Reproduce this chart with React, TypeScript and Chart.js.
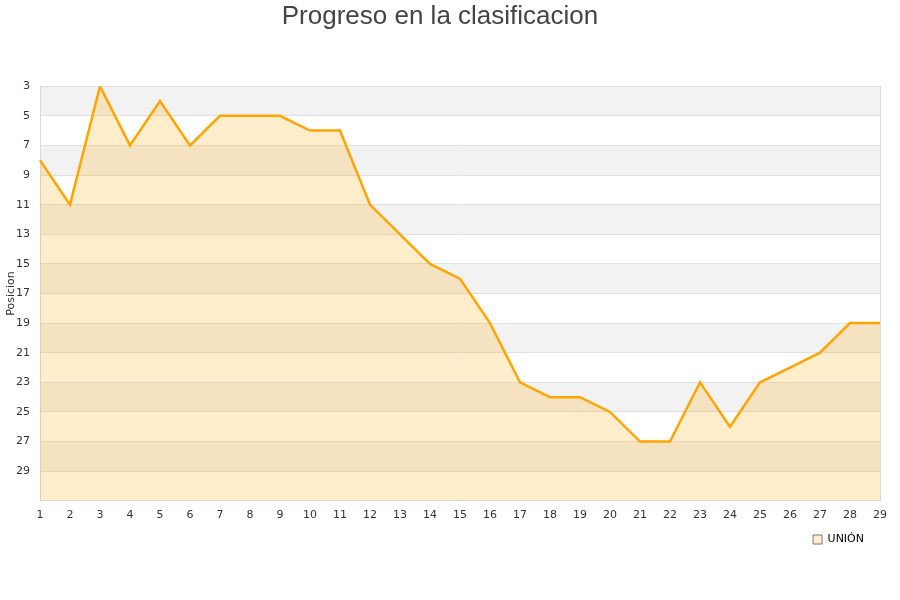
import React, { useEffect, useRef } from "react";
import { Chart, registerables } from "chart.js";

Chart.register(...registerables);

const jornadas = [
  "1", "2", "3", "4", "5", "6", "7", "8", "9", "10",
  "11", "12", "13", "14", "15", "16", "17", "18", "19", "20",
  "21", "22", "23", "24", "25", "26", "27", "28", "29",
];
const posiciones = [
  8, 11, 3, 7, 4, 7, 5, 5, 5, 6,
  6, 11, 13, 15, 16, 19, 23, 24, 24, 25,
  27, 27, 23, 26, 23, 22, 21, 19, 19,
];
const equipo = "UNIÓN";
const yMin = 3;
const yMax = 31;
const yStep = 2;

// grey stripes every other tick interval, under the grid
const stripes = {
  id: "stripes",
  afterLayout(chart: any) {
    // nudge the legend a bit to the left
    if (chart.legend) {
      chart.legend.left -= 4;
      chart.legend.right -= 4;
    }
  },
  beforeDraw(chart: any) {
    const { ctx, chartArea, scales } = chart;
    const y = scales.y;
    ctx.save();
    ctx.fillStyle = "#f2f2f2";
    for (let v = yMin; v < yMax; v += yStep * 2) {
      const top = y.getPixelForValue(v);
      const bottom = y.getPixelForValue(Math.min(v + yStep, yMax));
      ctx.fillRect(chartArea.left, top, chartArea.right - chartArea.left, bottom - top);
    }
    ctx.restore();
  },
};

const App = () => {
  const chartRef = useRef<HTMLCanvasElement>(null);

  useEffect(() => {
    const ctx = chartRef.current!.getContext("2d")!;
    const myChart = new Chart(ctx, {
      type: "line",
      data: {
        labels: jornadas,
        datasets: [
          {
            label: equipo,
            data: posiciones,
            borderColor: "#ffa500",
            backgroundColor: "rgba(255, 165, 0, 0.2)",
            borderWidth: 2.5,
            pointRadius: 0,
            tension: 0,
            fill: "start",
          },
        ],
      },
      options: {
        animation: false,
        responsive: true,
        maintainAspectRatio: false,
        layout: { padding: { left: 0, right: 20, top: 0, bottom: 45 } },
        plugins: {
          title: {
            display: true,
            text: "Progreso en la clasificacion",
            color: "#444",
            font: { family: "'Liberation Sans', Arial, sans-serif", size: 26, weight: "normal" },
            padding: { top: 1, bottom: 54 },
          },
          legend: {
            position: "bottom",
            align: "end",
            labels: {
              boxWidth: 9,
              boxHeight: 9,
              padding: 12,
              color: "#000",
              font: { family: "'DejaVu Sans', sans-serif", size: 11 },
              generateLabels: () => [
                {
                  text: equipo,
                  fillStyle: "rgba(255, 165, 0, 0.2)",
                  strokeStyle: "#777",
                  lineWidth: 1,
                  datasetIndex: 0,
                },
              ],
            },
          },
          tooltip: { enabled: false },
        },
        scales: {
          x: {
            offset: false,
            grid: { display: false },
            border: { display: true, color: "#d9d9d9" },
            ticks: {
              color: "#333",
              font: { family: "'DejaVu Sans', sans-serif", size: 11 },
              maxRotation: 0,
              autoSkip: false,
              padding: 0,
            },
          },
          y: {
            reverse: true,
            min: yMin,
            max: yMax,
            afterBuildTicks: (scale: any) => {
              scale.ticks = scale.ticks.filter((t: any) => t.value <= 29);
            },
            afterFit: (scale: any) => {
              scale.width = 40;
            },
            grid: { color: "#e0e0e0", drawTicks: false },
            border: { display: true, color: "#d9d9d9" },
            title: {
              display: true,
              text: "Posicion",
              color: "#333",
              font: { family: "'DejaVu Sans', sans-serif", size: 11 },
              padding: { top: 5, bottom: 0 },
            },
            ticks: {
              stepSize: yStep,
              color: "#333",
              font: { family: "'DejaVu Sans', sans-serif", size: 11 },
              padding: 10,
            },
          },
          y2: {
            position: "right",
            display: true,
            grid: { display: false, drawOnChartArea: false },
            border: { display: true, color: "#d9d9d9" },
            ticks: { display: false },
            afterFit: (scale: any) => {
              scale.width = 0;
            },
          },
        },
      },
      plugins: [stripes],
    });

    return () => {
      myChart.destroy();
    };
  }, []);

  return (
    <div style={{ position: "fixed", left: 0, top: 0, width: 900, height: 600, background: "#fff" }}>
      <canvas ref={chartRef}></canvas>
    </div>
  );
};

export default App;
